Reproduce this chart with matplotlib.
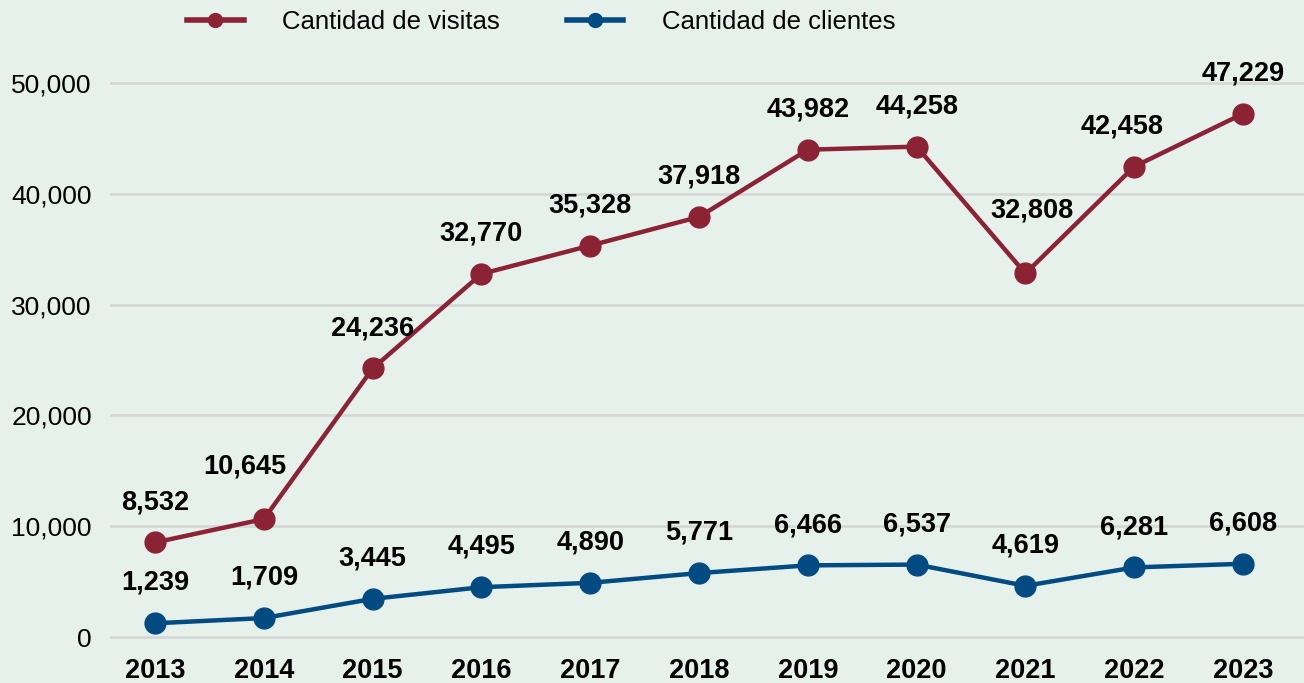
import matplotlib
matplotlib.use("Agg")
import matplotlib.pyplot as plt
from matplotlib.lines import Line2D

years = [2013, 2014, 2015, 2016, 2017, 2018, 2019, 2020, 2021, 2022, 2023]
visitas = [8532, 10645, 24236, 32770, 35328, 37918, 43982, 44258, 32808, 42458, 47229]
clientes = [1239, 1709, 3445, 4495, 4890, 5771, 6466, 6537, 4619, 6281, 6608]
yticks = [0, 10000, 20000, 30000, 40000, 50000]

RED = "#8B2335"
BLUE = "#014B82"
BG = "#E7F1EC"

plt.rcParams['font.family'] = ['Liberation Sans', 'DejaVu Sans']

fig = plt.figure(figsize=(13.04, 6.83), dpi=100, facecolor=BG)
ax = fig.add_axes([110 / 1304, 33 / 683, 1194 / 1304, 590 / 683])
ax.set_facecolor(BG)

ax.plot(years, visitas, color=RED, lw=3.2, marker='o', ms=15, zorder=3)
ax.plot(years, clientes, color=BLUE, lw=3.2, marker='o', ms=15, zorder=3)

# small nudges for a few of the visit labels (points)
nudge = {2014: (-14, 9), 2021: (5, 16), 2022: (-9, 0)}
for x, v in zip(years, visitas):
    dx, dy = nudge.get(x, (0, 0))
    ax.annotate(f"{v:,}", (x, v), xytext=(dx, 29 + dy), textcoords='offset points',
                ha='center', va='center', fontsize=19.5, fontweight='bold')
for x, v in zip(years, clientes):
    ax.annotate(f"{v:,}", (x, v), xytext=(0, 29), textcoords='offset points',
                ha='center', va='center', fontsize=19.5, fontweight='bold')

ax.set_xlim(2012.586, 2023.56)
ax.set_ylim(-1173, 52076)
ax.set_yticks(yticks)
ax.set_yticklabels([f"{t:,}" for t in yticks], fontsize=19)
ax.set_xticks(years)
ax.set_xticklabels([str(y) for y in years], fontsize=19.5, fontweight='bold')
ax.tick_params(length=0)
ax.tick_params(axis='y', pad=13)
ax.tick_params(axis='x', pad=6)
ax.grid(axis='y', color='#D6D8D6', lw=2)
ax.set_axisbelow(True)
for s in ax.spines.values():
    s.set_visible(False)

handles = [Line2D([], [], color=RED, lw=4, marker='o', ms=10),
           Line2D([], [], color=BLUE, lw=4, marker='o', ms=10)]
fig.legend(handles, ["Cantidad de visitas", "Cantidad de clientes"],
           loc='center left', bbox_to_anchor=(187 / 1304, 1 - 22 / 683), ncol=2,
           frameon=False, fontsize=18.5, handlelength=2.2, columnspacing=2.6,
           handletextpad=1.5, borderpad=0, borderaxespad=0)

fig.savefig("out.png", dpi=100, facecolor=BG)
